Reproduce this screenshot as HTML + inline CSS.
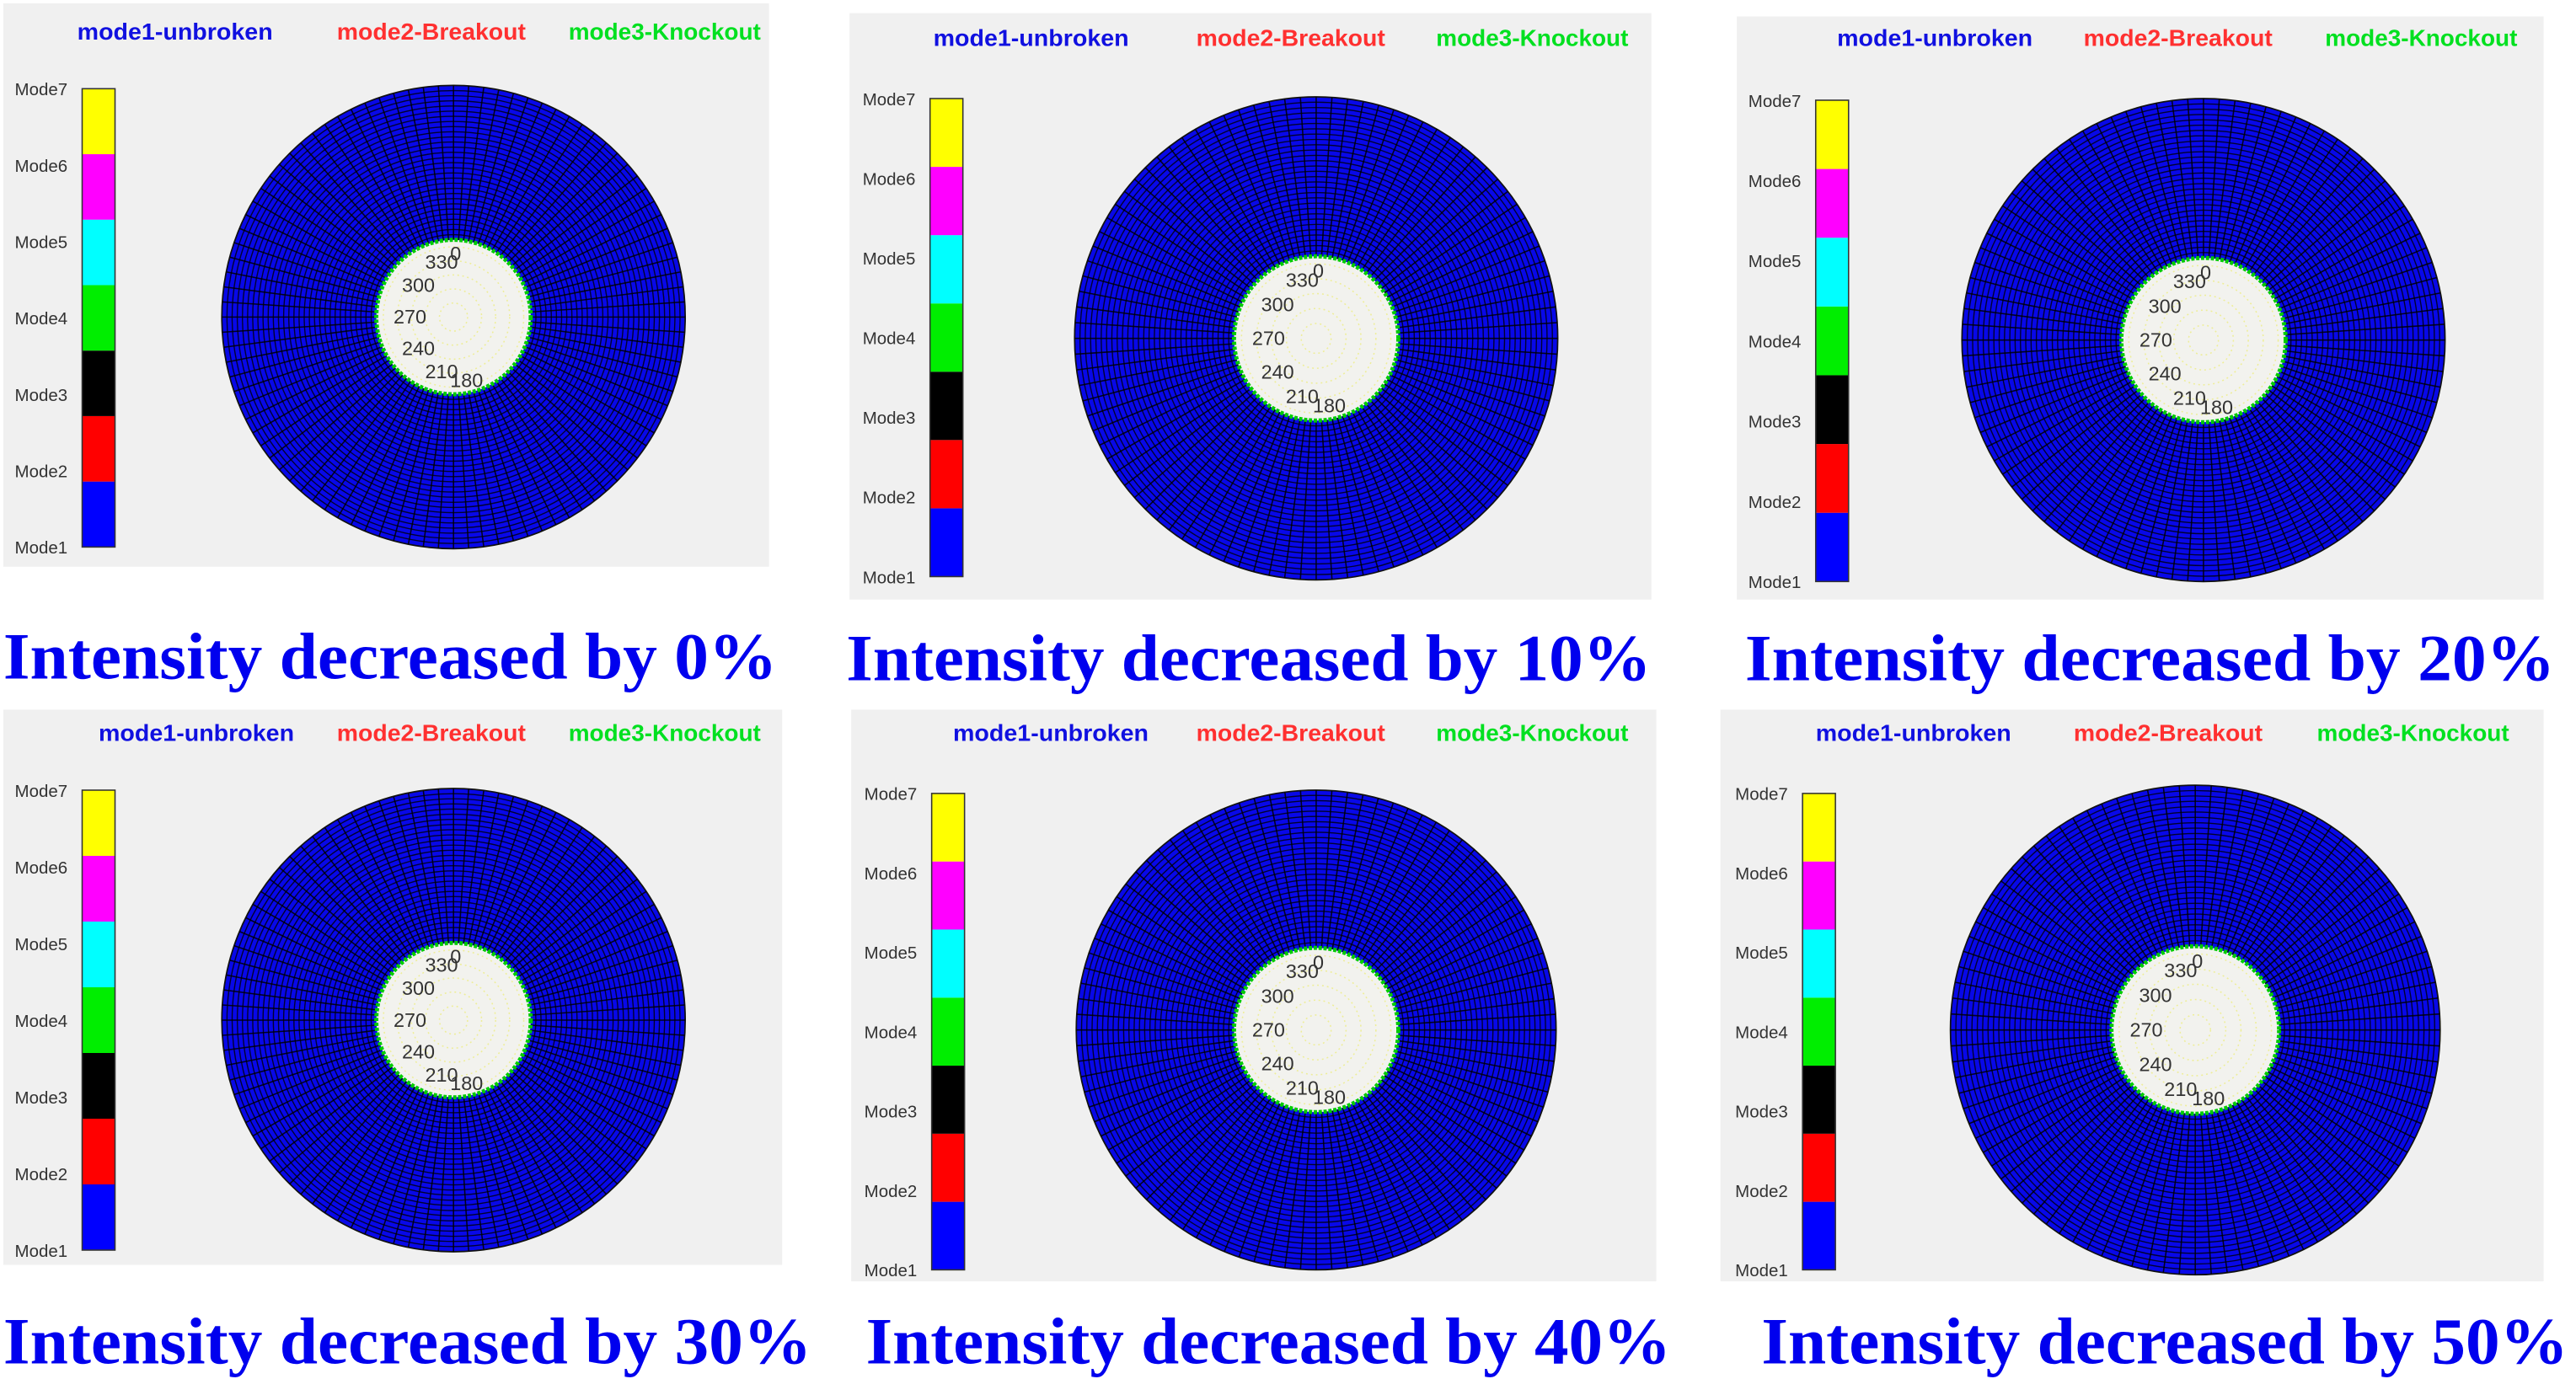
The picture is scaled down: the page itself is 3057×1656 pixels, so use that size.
<!DOCTYPE html>
<html><head><meta charset="utf-8">
<style>
html,body{margin:0;padding:0;background:#fff;}
svg{display:block;}
.leg{font-family:"Liberation Sans",sans-serif;font-size:14px;font-weight:bold;}
.ml{font-family:"Liberation Sans",sans-serif;font-size:10.5px;fill:#333;}
.ttl{font-family:"Liberation Serif",serif;font-size:40px;font-weight:bold;fill:#0000ee;}
.ang{font-family:"Liberation Sans",sans-serif;font-size:12px;fill:#333;}
</style></head>
<body>
<svg id="fig" width="3057" height="1656" viewBox="0 0 1567.7 849.2" preserveAspectRatio="none" xmlns="http://www.w3.org/2000/svg"></svg>
<script>
const percents = [0, 10, 20, 30, 40, 50];
const modeLabels = ["Mode1","Mode2","Mode3","Mode4","Mode5","Mode6","Mode7"];
const modeColors = ["#0000ff","#ff0000","#000000","#00ee00","#00ffff","#ff00ff","#ffff00"];
const legendLabels = ["mode1-unbroken","mode2-Breakout","mode3-Knockout"];
const legendColors = ["#1010e0","#ff3030","#00e020"];
const legendWidths = [119,115,117];
// layout (preview units) for each panel
const panels = [
 {x:2,y:2,w:466,h:343,cx:276,cy:193,r:141,ri:47,cbx:50,cby:54,cbh:279,ly:19,lx:[47,205,346],tx:2,ty:413,tw:471},
 {x:517,y:8,w:488,h:357,cx:801,cy:206,r:147,ri:50,cbx:566,cby:60,cbh:291,ly:23,lx:[568,728,874],tx:515,ty:414,tw:490},
 {x:1057,y:10,w:491,h:355,cx:1341,cy:207,r:147,ri:50,cbx:1105,cby:61,cbh:293,ly:23,lx:[1118,1268,1415],tx:1062,ty:414,tw:493},
 {x:2,y:432,w:474,h:338,cx:276,cy:621,r:141,ri:47,cbx:50,cby:481,cbh:280,ly:446,lx:[60,205,346],tx:2,ty:830,tw:492},
 {x:518,y:432,w:490,h:348,cx:801,cy:627,r:146,ri:50,cbx:567,cby:483,cbh:290,ly:446,lx:[580,728,874],tx:527,ty:830,tw:490},
 {x:1047,y:432,w:501,h:348,cx:1336,cy:627,r:149,ri:51,cbx:1097,cby:483,cbh:290,ly:446,lx:[1105,1262,1410],tx:1072,ty:830,tw:491}
];
const NS="http://www.w3.org/2000/svg";
const svg=document.getElementById('fig');
function mk(tag,attrs,parent){const e=document.createElementNS(NS,tag);for(const k in attrs)e.setAttribute(k,attrs[k]);(parent||svg).appendChild(e);return e;}
panels.forEach((p,i)=>{
 const g=mk('g',{});
 
 
 const bg=mk('rect',{x:p.x,y:p.y,width:p.w,height:p.h,fill:'#f0f0f0'},g);
 
 
 legendLabels.forEach((t,j)=>{
  const e=mk('text',{x:p.lx[j],y:p.ly+5,class:'leg',fill:legendColors[j],textLength:legendWidths[j],lengthAdjust:'spacingAndGlyphs'},g);e.textContent=t;
  
  
 });
 const seg=p.cbh/modeColors.length;
 modeColors.forEach((c,j)=>{
  const r=mk('rect',{x:p.cbx,y:p.cby+p.cbh-(j+1)*seg,width:20,height:seg,fill:c},g);
  
  
 });
 mk('rect',{x:p.cbx,y:p.cby,width:20,height:p.cbh,fill:'none',stroke:'#333','stroke-width':0.8},g);
 modeLabels.forEach((t,j)=>{
  const e=mk('text',{x:p.cbx-41,y:p.cby+p.cbh-j*p.cbh/6+4,class:'ml'},g);e.textContent=t;
  
  
 });
 const disk=mk('circle',{cx:p.cx,cy:p.cy,r:p.r,fill:'#0808e8',stroke:'#111','stroke-width':0.9},g);
 
 
 const nR=30;
 for(let k=1;k<nR;k++){mk('circle',{cx:p.cx,cy:p.cy,r:p.ri+(p.r-p.ri)*k/nR,fill:'none',stroke:'#000','stroke-width':0.7,'stroke-opacity':0.8},g);}
 const nS=96;
 let d='';
 for(let k=0;k<nS;k++){const a=k*2*Math.PI/nS;d+=`M${p.cx+p.ri*Math.cos(a)},${p.cy+p.ri*Math.sin(a)}L${p.cx+p.r*Math.cos(a)},${p.cy+p.r*Math.sin(a)}`;}
 mk('path',{d:d,stroke:'#000','stroke-width':0.8,'stroke-opacity':0.85},g);
 const hole=mk('circle',{cx:p.cx,cy:p.cy,r:p.ri,fill:'#f2f2ee',stroke:'#00cc00','stroke-width':2.5,'stroke-dasharray':'2 1'},g);
 
 
 for(let k=1;k<=5;k++){mk('circle',{cx:p.cx,cy:p.cy,r:p.ri*k/5.5,fill:'none',stroke:'#eeee99','stroke-width':0.8,'stroke-dasharray':'1 2'},g);}
 const angs=[0,330,300,270,240,210,180];
 angs.forEach((a)=>{
  const rad=(a-90)*Math.PI/180;const rr=p.ri*0.82;
  const e=mk('text',{x:p.cx+rr*Math.cos(rad)-(a===0||a===180?2:-2),y:p.cy+rr*Math.sin(rad)+4,class:'ang'},g);
  e.textContent=String(a);
  
  
 });
 const t=mk('text',{x:p.tx,y:p.ty,class:'ttl',textLength:p.tw,lengthAdjust:'spacingAndGlyphs'},svg);t.textContent='Intensity decreased by '+percents[i]+'%';
 
 
});
</script>
</body></html>
